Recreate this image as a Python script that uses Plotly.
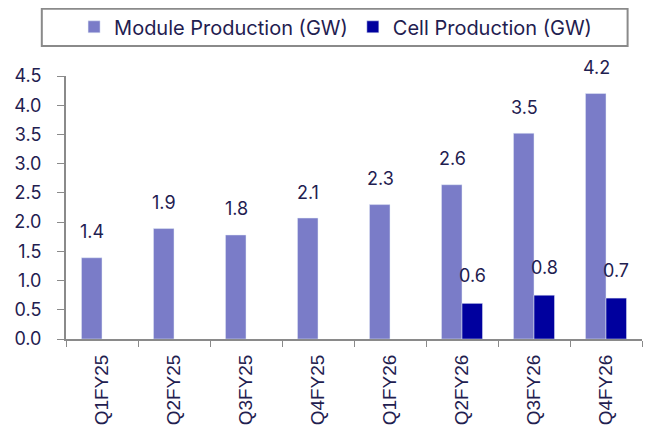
import plotly.graph_objects as go

# Données
trimestres = ['Q1FY25', 'Q2FY25', 'Q3FY25', 'Q4FY25', 'Q1FY26', 'Q2FY26', 'Q3FY26', 'Q4FY26']
modules = [1.39, 1.89, 1.78, 2.07, 2.30, 2.64, 3.52, 4.20]
cellules = [None, None, None, None, None, 0.61, 0.75, 0.70]
etiquettes_modules = ['1.4', '1.9', '1.8', '2.1', '2.3', '2.6', '3.5', '4.2']
etiquettes_cellules = [None, None, None, None, None, '0.6', '0.8', '0.7']

couleur_module = '#7a7cc8'
couleur_cellule = '#00009e'
texte = '#1f2050'
police = 'Inter'

fig = go.Figure()
fig.add_trace(go.Bar(x=trimestres, y=modules, name='Module Production (GW)',
                     marker_color=couleur_module))
fig.add_trace(go.Bar(x=trimestres, y=cellules, name='Cell Production (GW)',
                     marker_color=couleur_cellule))

# Étiquettes au-dessus des barres
for t, v, e in zip(trimestres, modules, etiquettes_modules):
    fig.add_annotation(x=t, y=v, text=e, showarrow=False, xshift=-10, yshift=26,
                       font=dict(family=police, size=18, color=texte))
for t, v, e in zip(trimestres, cellules, etiquettes_cellules):
    if v is not None:
        fig.add_annotation(x=t, y=v, text=e, showarrow=False, xshift=10, yshift=28,
                           font=dict(family=police, size=18, color=texte))

# Cadre de la légende
fig.add_shape(type='rect', xref='paper', yref='paper', x0=-0.042, x1=0.975, y0=1.114, y1=1.256,
              line=dict(color='#8a8a8a', width=2), fillcolor='white')

# la page ajoute une marge de 8 px autour du graphique
fig.update_layout(
    width=644, height=426,
    margin=dict(l=58, r=10, t=68, b=95, autoexpand=False),
    plot_bgcolor='white', paper_bgcolor='white',
    barmode='group', bargap=0.43, bargroupgap=0,
    font=dict(family=police, size=18, color=texte),
    showlegend=True,
    legend=dict(orientation='h', x=0.468, xanchor='center', y=1.187, yanchor='middle',
                font=dict(family=police, size=20, color=texte), bgcolor='rgba(0,0,0,0)',
                itemwidth=30, tracegroupgap=0),
)
fig.update_yaxes(range=[0, 4.5], dtick=0.5, tickformat='.1f', showgrid=False, zeroline=False,
                 showline=True, linecolor='#8a8a8a', linewidth=2, ticks='outside', ticklen=7,
                 tickcolor='#8a8a8a', ticklabelstandoff=12,
                 tickfont=dict(family=police, size=18, color=texte))
fig.update_xaxes(showline=True, linecolor='#8a8a8a', linewidth=2, ticks='outside', ticklen=6,
                 tickcolor='#8a8a8a', tickson='boundaries', tickangle=-90, ticklabelstandoff=6,
                 tickfont=dict(family='Liberation Sans', size=19, color=texte))

fig.write_html('out.html')
